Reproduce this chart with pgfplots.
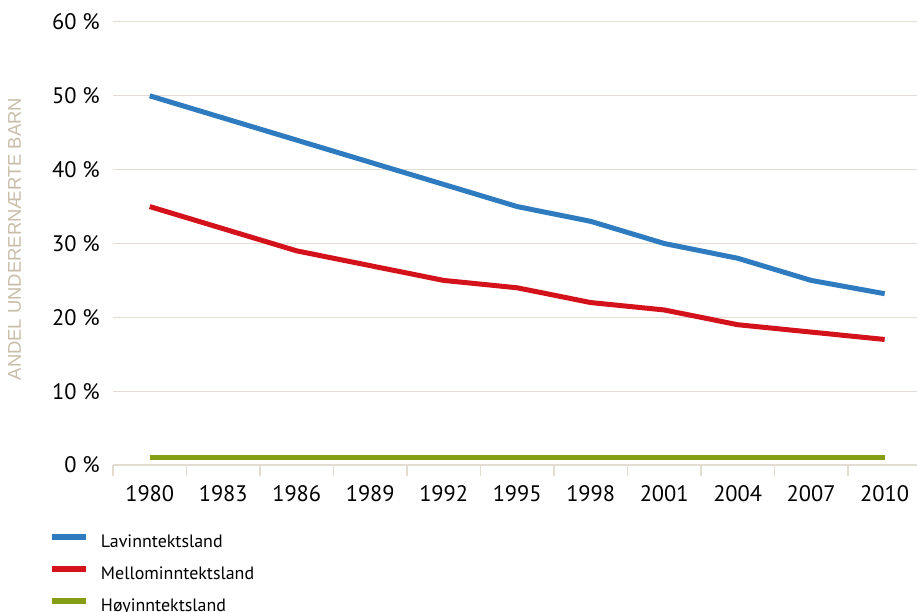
\documentclass[border=0pt]{standalone}
\usepackage{pgfplots}
\pgfplotsset{compat=1.18}
\usepackage{fontspec}
\setmainfont{PT Sans}
\newfontfamily\labelfont{Liberation Sans}
\definecolor{lavblue}{RGB}{46,123,192}
\definecolor{melred}{RGB}{212,18,28}
\definecolor{hoygreen}{RGB}{134,158,22}
\definecolor{gridtan}{RGB}{227,221,209}
\definecolor{labeltan}{RGB}{200,189,168}

\begin{document}
\begin{tikzpicture}
\begin{axis}[
  name=a,
  scale only axis,
  width=804bp, height=443bp,
  xmin=-0.5, xmax=10.44,
  ymin=0, ymax=60,
  xtick={0,...,10},
  xticklabels={1980,1983,1986,1989,1992,1995,1998,2001,2004,2007,2010},
  minor xtick={-0.5,0.5,1.5,2.5,3.5,4.5,5.5,6.5,7.5,8.5,9.5},
  ytick={0,10,...,60},
  yticklabel={\pgfmathprintnumber{\tick}~\%},
  /pgf/number format/assume math mode=true,
  axis lines*=left,
  y axis line style={draw=none},
  x axis line style={-, draw=gridtan, line width=1.2bp},
  major tick length=0pt,
  minor tick length=11bp,
  tick align=outside,
  minor tick style={draw=gridtan, line width=1.2bp},
  ymajorgrids,
  grid style={draw=gridtan, line width=1bp},
  tick label style={font=\fontsize{22.5}{26}\selectfont, text=black},
  xticklabel style={anchor=north, inner sep=0pt, yshift=-20bp},
  yticklabel style={anchor=east, inner sep=0pt, xshift=-13bp},
  ylabel={ANDEL UNDERERNÆRTE BARN},
  ylabel style={at={(axis description cs:-0.1225,0.51)}, anchor=center,
    font=\labelfont\fontsize{18.5}{20}\selectfont, text=labeltan},
  legend style={at={(axis description cs:-0.0796,-0.1558)}, anchor=north west,
    draw=none, fill=none, inner sep=0pt, outer sep=0pt,
    font=\fontsize{18}{20}\selectfont, row sep=14.5bp, column sep=12bp,
    nodes={inner sep=0pt, text height=13bp, text depth=4bp}},
  legend cell align=left,
  legend image code/.code={\draw[#1, line width=6bp] (0bp,6bp) -- (34bp,6bp);},
  every axis plot/.append style={line width=5bp, line join=round},
]
\addplot[lavblue] coordinates {
  (0,50) (1,47) (2,44) (3,41) (4,38) (5,35) (6,33) (7,30) (8,28) (9,25) (10,23.2)
};
\addlegendentry{Lavinntektsland}
\addplot[melred] coordinates {
  (0,35) (1,32) (2,29) (3,27) (4,25) (5,24) (6,22) (7,21) (8,19) (9,18) (10,17)
};
\addlegendentry{Mellominntektsland}
\addplot[hoygreen] coordinates {
  (0,1) (1,1) (2,1) (3,1) (4,1) (5,1) (6,1) (7,1) (8,1) (9,1) (10,1)
};
\addlegendentry{Høyinntektsland}
\end{axis}
\pgfresetboundingbox
\path[use as bounding box] ([xshift=-113bp,yshift=-147bp]a.south west) rectangle ([yshift=22bp]a.north east);
\end{tikzpicture}
\end{document}
